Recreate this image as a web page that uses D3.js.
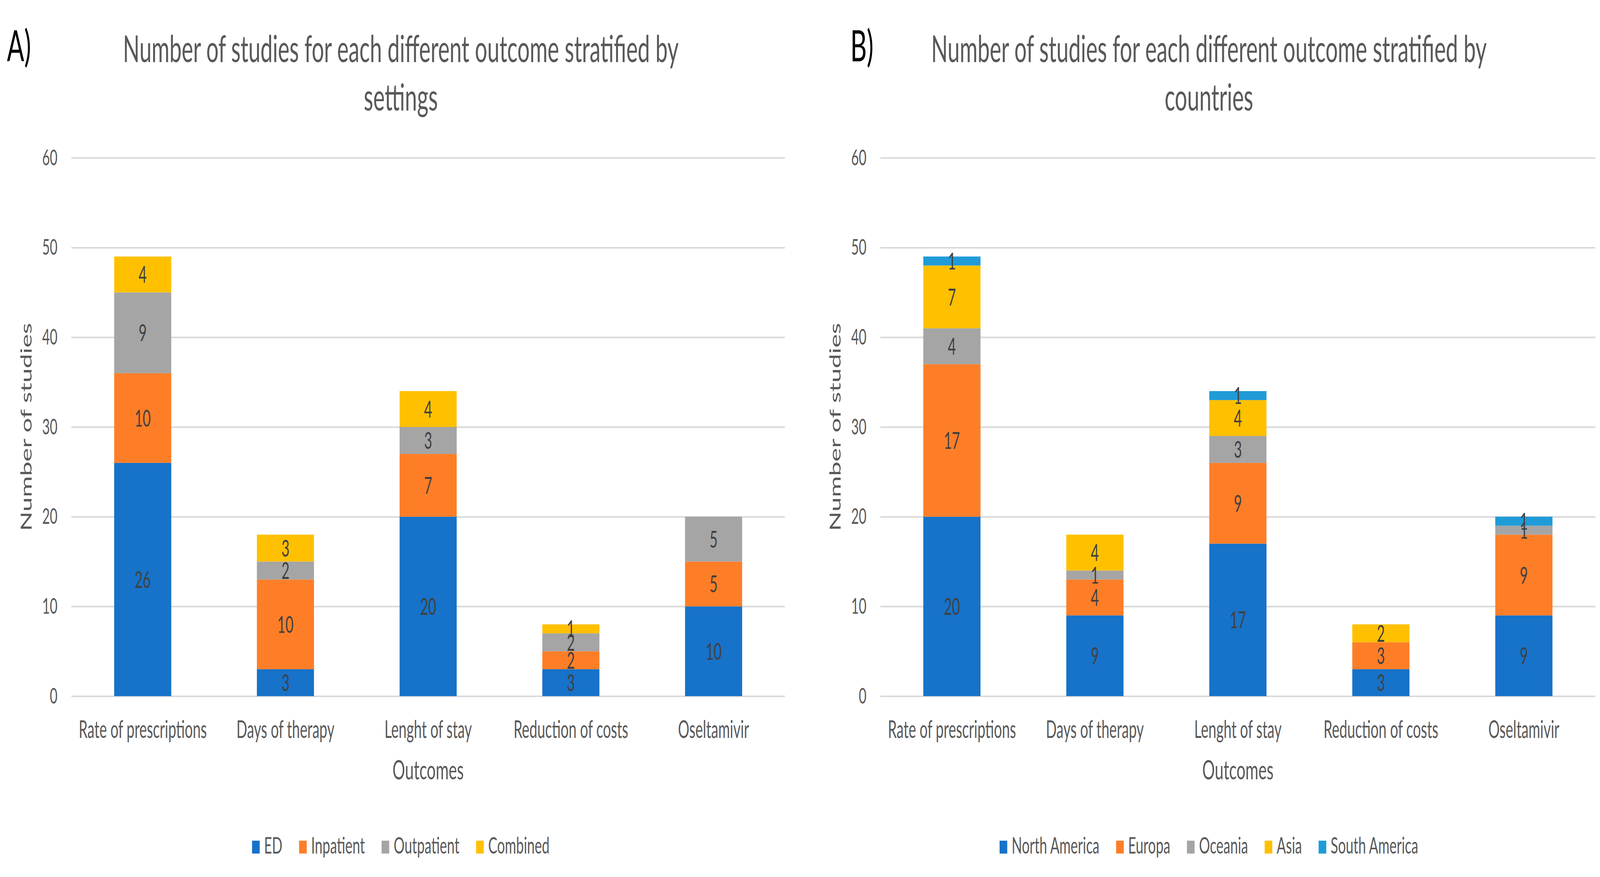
<!DOCTYPE html>
<html lang="en">
  <head>
    <meta charset="UTF-8" />
    <title>Number of studies by outcome</title>
    <script src="https://d3js.org/d3.v7.min.js"></script>
    <style>
      html, body { margin: 0; padding: 0; background: #fff; overflow: hidden; }
      #chart svg { display: block; width: 100vw; height: 100vh; }
      svg text { font-family: Lato, 'Open Sans', sans-serif; }
    </style>
  </head>
  <body>
    <div id="chart"></div>
    <script>
      // outcomes shared by both panels
      const outcomes = [
        'Rate of prescriptions',
        'Days of therapy',
        'Lenght of stay',
        'Reduction of costs',
        'Oseltamivir'
      ];
      const yTicks = [0, 10, 20, 30, 40, 50, 60];

      // panel A: settings
      const settings = ['ED', 'Inpatient', 'Outpatient', 'Combined'];
      const settingColors = ['#1772C9', '#FE7E28', '#A5A5A5', '#FFC000'];
      const edValues = [26, 3, 20, 3, 10];
      const inpatientValues = [10, 10, 7, 2, 5];
      const outpatientValues = [9, 2, 3, 2, 5];
      const combinedValues = [4, 3, 4, 1, 0];

      // panel B: countries
      const regions = ['North America', 'Europa', 'Oceania', 'Asia', 'South America'];
      const regionColors = ['#1772C9', '#FE7E28', '#A5A5A5', '#FFC000', '#1F9BD7'];
      const northAmericaValues = [20, 9, 17, 3, 9];
      const europaValues = [17, 4, 9, 3, 9];
      const oceaniaValues = [4, 1, 3, 0, 1];
      const asiaValues = [7, 4, 4, 2, 0];
      const southAmericaValues = [1, 0, 1, 0, 1];

      // drawn in a 6906x2245 frame, stretched to fill the window
      const W = 6906, H = 2245;
      const svg = d3.select('#chart').append('svg')
        .attr('viewBox', `0 0 ${W} ${H}`)
        .attr('preserveAspectRatio', 'none');

      function drawPanel(opt) {
        const g = svg.append('g');
        const rows = outcomes.map((o, i) => {
          const r = { outcome: o };
          opt.keys.forEach((k, j) => (r[k] = opt.series[j][i]));
          return r;
        });
        const stack = d3.stack().keys(opt.keys)(rows);

        const x = d3.scaleBand().domain(outcomes)
          .range([opt.left, opt.right]).paddingInner(0.6).paddingOuter(0.3);
        const y = d3.scaleLinear().domain([0, 60]).range([1782, 404]);

        // letter
        g.append('text').attr('x', opt.letterX).attr('y', 157)
          .style('font-size', '110px').attr('fill', '#000').text(opt.letter);

        // title
        const title = g.append('text').attr('text-anchor', 'middle')
          .style('font-size', '94px').attr('fill', '#595959');
        title.append('tspan').attr('x', opt.center).attr('y', 159)
          .text('Number of studies for each different outcome stratified by');
        title.append('tspan').attr('x', opt.center).attr('y', 283).text(opt.subtitle);

        // gridlines + y labels
        const yAxis = g.append('g').attr('transform', `translate(${opt.left},0)`)
          .call(d3.axisLeft(y).tickValues(yTicks).tickSize(-(opt.right - opt.left)).tickPadding(60));
        yAxis.select('.domain').remove();
        yAxis.selectAll('line').attr('stroke', '#D9D9D9').attr('stroke-width', 4);
        yAxis.selectAll('text').attr('fill', '#595959').style('font-size', '57px');

        // bars
        g.append('g').selectAll('g').data(stack).join('g')
          .attr('fill', (d, i) => opt.colors[i])
          .selectAll('rect').data(d => d).join('rect')
          .attr('x', d => x(d.data.outcome))
          .attr('width', x.bandwidth())
          .attr('y', d => y(d[1]))
          .attr('height', d => y(d[0]) - y(d[1]));

        // data labels
        g.append('g').selectAll('g').data(stack).join('g')
          .selectAll('text').data(d => d.filter(v => v[1] - v[0] > 0)).join('text')
          .attr('x', d => x(d.data.outcome) + x.bandwidth() / 2)
          .attr('y', d => y((d[0] + d[1]) / 2))
          .attr('dy', '0.36em')
          .attr('text-anchor', 'middle')
          .attr('fill', '#404040')
          .style('font-size', '60px')
          .text(d => d[1] - d[0]);

        // x labels
        const xAxis = g.append('g').attr('transform', 'translate(0,1782)')
          .call(d3.axisBottom(x).tickSize(0).tickPadding(64));
        xAxis.select('.domain').remove();
        xAxis.selectAll('text').attr('fill', '#595959').style('font-size', '61px');

        // axis titles
        g.append('text')
          .attr('transform', `translate(${opt.left - 172},${(404 + 1782) / 2}) rotate(-90)`)
          .attr('text-anchor', 'middle').attr('fill', '#595959')
          .style('font-size', '66px').text('Number of studies');
        g.append('text').attr('x', (opt.left + opt.right) / 2).attr('y', 1995)
          .attr('text-anchor', 'middle').attr('fill', '#595959')
          .style('font-size', '68px').text('Outcomes');

        // legend
        const leg = g.append('g');
        const items = leg.selectAll('g').data(opt.keys).join('g');
        items.append('rect').attr('width', 33).attr('height', 33)
          .attr('y', 2152).attr('fill', (d, i) => opt.colors[i]);
        items.append('text').attr('x', 52).attr('y', 2185)
          .attr('fill', '#595959').style('font-size', '59px').text(d => d);
        let cx = 0;
        items.each(function () {
          d3.select(this).attr('transform', `translate(${cx},0)`);
          cx += this.getBBox().width + 72;
        });
        const total = cx - 72;
        leg.attr('transform', `translate(${opt.center - total / 2},0)`);
      }

      drawPanel({
        letter: 'A)', letterX: 30, center: 1730, left: 308, right: 3388,
        subtitle: 'settings', keys: settings, colors: settingColors,
        series: [edValues, inpatientValues, outpatientValues, combinedValues]
      });
      drawPanel({
        letter: 'B)', letterX: 3670, center: 5218, left: 3800, right: 6886,
        subtitle: 'countries', keys: regions, colors: regionColors,
        series: [northAmericaValues, europaValues, oceaniaValues, asiaValues, southAmericaValues]
      });
    </script>
  </body>
</html>
